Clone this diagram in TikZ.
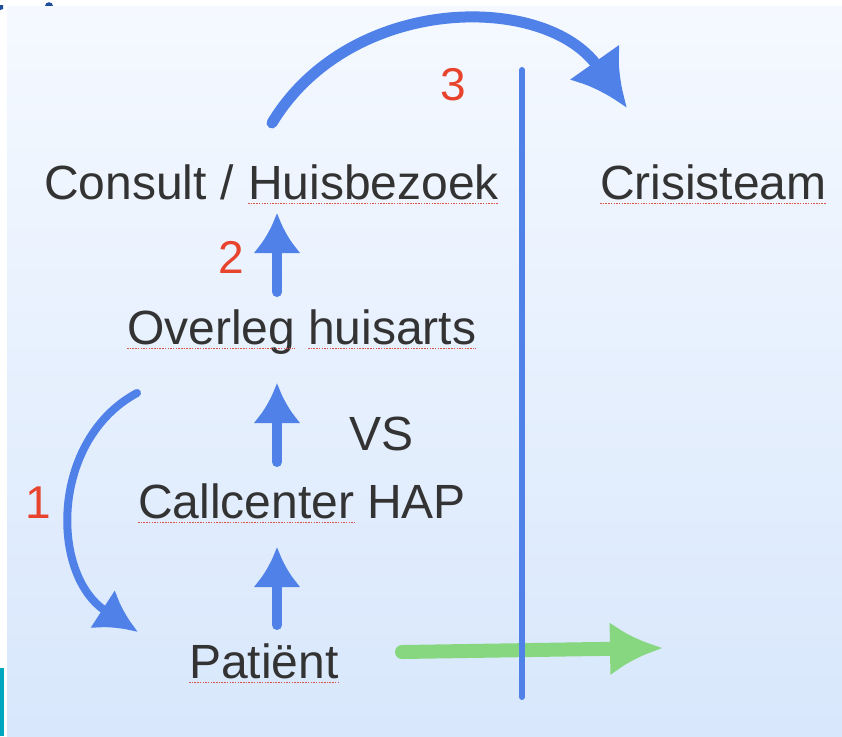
\documentclass[tikz,border=0pt]{standalone}
\usepackage{fontspec}
\setmainfont{Liberation Sans}
\usetikzlibrary{arrows.meta}
\definecolor{bgtop}{HTML}{F5F9FF}
\definecolor{bgbot}{HTML}{D8E7FC}
\definecolor{arrblue}{HTML}{4F81E8}
\definecolor{arrgreen}{HTML}{86D77F}
\definecolor{numred}{HTML}{E8432D}
\definecolor{txtgray}{HTML}{333333}
\definecolor{spellred}{HTML}{D9534F}
\definecolor{tealbar}{HTML}{00A7BF}
\definecolor{darkmark}{HTML}{1F4F9C}
\begin{document}
\begin{tikzpicture}[x=1pt,y=-1pt,
  lbl/.style={anchor=base west, inner sep=0pt, outer sep=0pt, text=txtgray, font=\fontsize{48}{56}\selectfont},
  num/.style={anchor=center, inner sep=0pt, text=numred, font=\fontsize{46}{54}\selectfont},
  spellline/.style={spellred, line width=1pt, dash pattern=on 1.5pt off 1.2pt},
  uparrow/.style={arrblue, line width=10pt, line cap=round, -{Latex[length=40pt,width=48pt]}},
  bigarrow/.style={arrblue, line width=11pt, line cap=round, -{Latex[length=56pt,width=62pt]}},
  curvearrow/.style={arrblue, line width=8pt, line cap=round, -{Latex[length=42pt,width=46pt]}},
  greenarrow/.style={arrgreen, line width=14pt, line cap=round, -{Latex[length=53pt,width=54pt]}},
  vline/.style={arrblue, line width=6pt, line cap=round}]
\useasboundingbox (0,0) rectangle (842,736);
% background
\fill[white] (0,0) rectangle (842,736);
\shade[top color=bgtop, bottom color=bgbot] (7,6) rectangle (842,736);
\fill[tealbar] (0,668) rectangle (4,736);
\fill[darkmark] (45,6) .. controls (45,1) and (53,1) .. (53,6) -- cycle;
\fill[darkmark] (0,5) -- (3,5) -- (3,9) -- (0,10) -- cycle;

% text nodes
\node[lbl] (cons) at (44,199) {Consult /};
\node[lbl] (huis) at (248,199) {Huisbezoek};
\node[lbl] (cris) at (600,199) {Crisisteam};
\node[lbl] (over) at (127,344) {Overleg};
\node[lbl] (huisa) at (308,344) {huisarts};
\node[lbl] (vs) at (349,450) {VS};
\node[lbl] (call) at (138,518) {Callcenter};
\node[lbl] (hap) at (367,518) {HAP};
\node[lbl] (pat) at (189,678) {Patiënt};
\node[num] (n1) at (38,503) {1};
\node[num] (n2) at (231,257) {2};
\node[num] (n3) at (453,85) {3};

% spelling underlines
\foreach \w in {huis,cris,over,huisa,call,pat}
  \draw[spellline] ([yshift=-4pt]\w.base west) -- ([yshift=-4pt]\w.base east);

% connector end points
\coordinate (a1b) at (277,625);
\coordinate (a1t) at (277,547);
\coordinate (a2b) at (277,462);
\coordinate (a2t) at (277,383);
\coordinate (a3b) at (277,292);
\coordinate (a3t) at (277,213);
\coordinate (c3s) at (272,123);
\coordinate (c3e) at (627,108);
\coordinate (c1s) at (137,393);
\coordinate (c1e) at (138,632);
\coordinate (gs) at (402,652);
\coordinate (ge) at (663,648);
\coordinate (v1) at (522,70);
\coordinate (v2) at (522,697);

% arrows
\draw[uparrow] (a1b) -- (a1t);
\draw[uparrow] (a2b) -- (a2t);
\draw[uparrow] (a3b) -- (a3t);
\draw[bigarrow] (c3s) .. controls (350,-6) and (545,-8) .. (c3e);
\draw[curvearrow] (c1s) .. controls (50,440) and (50,575) .. (c1e);
\draw[greenarrow] (gs) -- (ge);
\draw[vline] (v1) -- (v2);
\end{tikzpicture}
\end{document}
